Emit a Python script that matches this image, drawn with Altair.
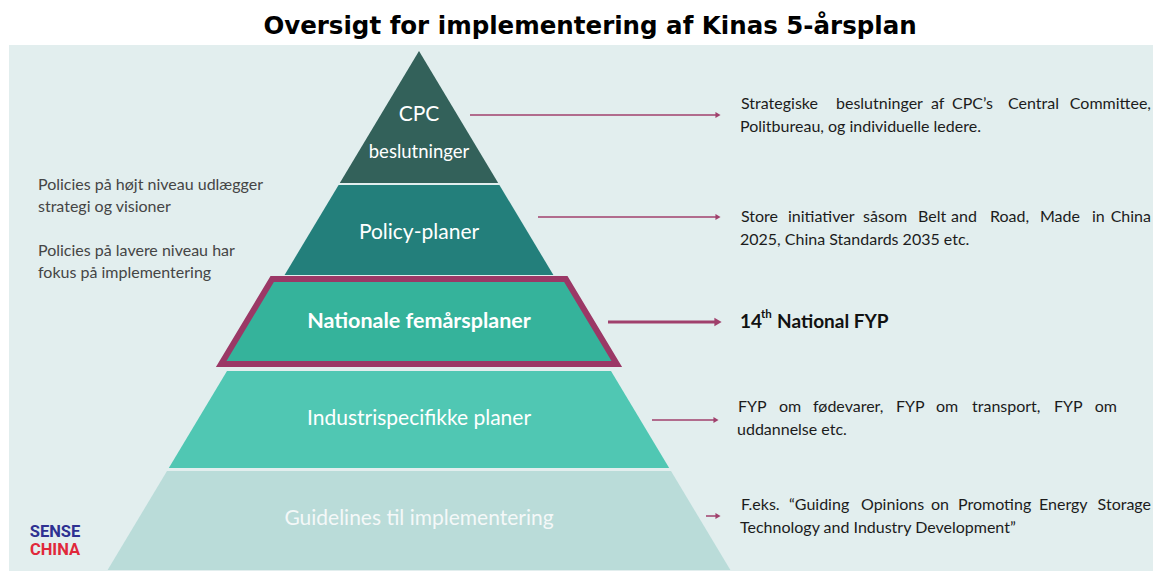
import altair as alt
import pandas as pd

# ---------------- data ----------------
title_text = "Oversigt for implementering af Kinas 5-årsplan"

level_names = ["CPC beslutninger", "Policy-planer", "Nationale femårsplaner",
               "Industrispecifikke planer", "Guidelines til implementering"]
level_top = [51, 185, 279, 371, 471]
level_bottom = [183, 275, 364, 468, 570]
level_expand = [0, 0, 10, 0, 0]
level_colors = ["#33615a", "#237f7b", "#35b39b", "#50c7b3", "#badcd9"]
highlight_level = "Nationale femårsplaner"
apex_x = 419
apex_y = 51
slope = 0.6

label_lines = ["CPC", "beslutninger", "Policy-planer", "Industrispecifikke planer",
               "Guidelines til implementering"]
label_y = [115, 152, 233, 419, 519]
label_size = [21, 18.5, 21, 21, 21]
label_color = ["#ffffff", "#ffffff", "#ffffff", "#ffffff", "#f4f8f8"]
bold_label = "Nationale femårsplaner"
bold_label_y = 322

left_lines = ["Policies på højt niveau udlægger", "strategi og visioner",
              "Policies på lavere niveau har", "fokus på implementering"]
left_y = [185, 207, 251, 273]

arrow_y = [115, 217, 322, 420, 516]
arrow_x0 = [470, 538, 608, 652, 706]
arrow_x1 = [718, 718, 718, 716, 718]
arrow_w = [1.5, 1.5, 3, 1.5, 1.5]
arrow_head = [35, 35, 70, 35, 35]

# justified lines of the right-hand notes, word by word
just_words = [
    ["Strategiske", "beslutninger", "af", "CPC’s", "Central", "Committee,"],
    ["Store", "initiativer", "såsom", "Belt", "and", "Road,", "Made", "in", "China"],
    ["FYP", "om", "fødevarer,", "FYP", "om", "transport,", "FYP", "om"],
    ["F.eks.", "“Guiding", "Opinions", "on", "Promoting", "Energy", "Storage"],
]
just_x = [
    [741, 836, 931, 952, 1008, 1151],
    [741, 788, 863, 918, 951, 990, 1040, 1092, 1151],
    [738, 779, 813, 896, 936, 972, 1054, 1117],
    [741, 789, 861, 931, 958, 1039, 1151],
]
just_y = [104, 217, 407, 505]

# last lines (left aligned)
right_lines = ["Politbureau, og individuelle ledere.",
               "2025, China Standards 2035 etc.",
               "uddannelse etc.",
               "Technology and Industry Development”"]
right_y = [127, 240, 430, 528]
right_x = [740, 740, 737, 740]

fyp_parts = ["14", "th", "National FYP"]
fyp_x = [740, 761, 777]
fyp_y = [322, 315, 322]
fyp_size = [19, 11.5, 19]

logo_words = ["SENSE", "CHINA"]
logo_y = [532, 550]
logo_colors = ["#2e3192", "#e0283a"]

# ---------------- scales ----------------
xs = alt.Scale(domain=[8, 1153], nice=False, zero=False)
ys = alt.Scale(domain=[8, 571], nice=False, zero=False, reverse=True)


def X(f):
    return alt.X(f, type="quantitative", scale=xs, axis=None)


def Y(f):
    return alt.Y(f, type="quantitative", scale=ys, axis=None)


# background panel
panel = alt.Chart(pd.DataFrame({"x": [9], "x2": [1153], "y": [45], "y2": [571]})).mark_rect(
    color="#e2eeee").encode(x=X("x"), x2="x2", y=Y("y"), y2="y2")

# pyramid
rows = []
for i, name in enumerate(level_names):
    for yv in (level_top[i], level_bottom[i]):
        hw = (yv - apex_y) * slope + level_expand[i]
        rows.append(dict(level=name, y=yv, xl=apex_x - hw, xr=apex_x + hw))
pyr = pd.DataFrame(rows)

pyramid = alt.Chart(pyr).mark_area(orient="horizontal").encode(
    y=Y("y"), x=X("xl"), x2="xr",
    color=alt.Color("level:N", scale=alt.Scale(domain=level_names, range=level_colors), legend=None),
)
border = alt.Chart(pyr[pyr.level == highlight_level]).mark_area(
    orient="horizontal", fillOpacity=0, stroke="#9b3866", strokeWidth=6, strokeJoin="miter"
).encode(y=Y("y"), x=X("xl"), x2="xr")

# labels in pyramid
lab = alt.Chart(pd.DataFrame({"t": label_lines, "y": label_y, "s": label_size, "c": label_color,
                              "x": [apex_x] * len(label_lines)})).mark_text(
    font="Lato", align="center", baseline="middle").encode(
    x=X("x"), y=Y("y"), text="t:N",
    size=alt.Size("s:Q", scale=None), color=alt.Color("c:N", scale=None))
blab = alt.Chart(pd.DataFrame({"t": [bold_label], "y": [bold_label_y], "x": [apex_x]})).mark_text(
    font="Lato", fontWeight="bold", fontSize=21.5, color="#ffffff", align="center", baseline="middle"
).encode(x=X("x"), y=Y("y"), text="t:N")

# left notes
left = alt.Chart(pd.DataFrame({"t": left_lines, "y": left_y, "x": [38] * len(left_lines)})).mark_text(
    font="Lato", fontSize=16, color="#454545", align="left", baseline="middle"
).encode(x=X("x"), y=Y("y"), text="t:N")

# arrows
adf = pd.DataFrame({"y": arrow_y, "x0": arrow_x0, "x1": arrow_x1, "w": arrow_w, "h": arrow_head})
rules = alt.Chart(adf).mark_rule(color="#a0406c").encode(
    x=X("x0"), x2="x1", y=Y("y"), size=alt.Size("w:Q", scale=None))
heads = alt.Chart(adf).mark_point(shape="triangle-right", filled=True, color="#a0406c", opacity=1).encode(
    x=X("x1"), y=Y("y"), size=alt.Size("h:Q", scale=None))

# right notes: justified lines
jrows = []
for words, xsx, yv in zip(just_words, just_x, just_y):
    for k, (w, xv) in enumerate(zip(words, xsx)):
        jrows.append(dict(t=w, x=xv, y=yv, last=(k == len(words) - 1)))
jdf = pd.DataFrame(jrows)
just_first = alt.Chart(jdf[~jdf["last"]]).mark_text(
    font="Lato", fontSize=16, color="#1c1c1c", align="left", baseline="middle"
).encode(x=X("x"), y=Y("y"), text="t:N")
just_last = alt.Chart(jdf[jdf["last"]]).mark_text(
    font="Lato", fontSize=16, color="#1c1c1c", align="right", baseline="middle"
).encode(x=X("x"), y=Y("y"), text="t:N")

right = alt.Chart(pd.DataFrame({"t": right_lines, "y": right_y, "x": right_x})).mark_text(
    font="Lato", fontSize=16, color="#1c1c1c", align="left", baseline="middle"
).encode(x=X("x"), y=Y("y"), text="t:N")
fyp = alt.Chart(pd.DataFrame({"t": fyp_parts, "x": fyp_x, "y": fyp_y, "s": fyp_size})).mark_text(
    font="Lato", fontWeight="bold", color="#111111", align="left", baseline="middle"
).encode(x=X("x"), y=Y("y"), text="t:N", size=alt.Size("s:Q", scale=None))

# logo
logo = alt.Chart(pd.DataFrame({"t": logo_words, "y": logo_y, "c": logo_colors, "x": [55, 55]})).mark_text(
    font="Roboto", fontWeight="bold", fontSize=16.5, align="center", baseline="middle"
).encode(x=X("x"), y=Y("y"), text="t:N", color=alt.Color("c:N", scale=None))

# title
title = alt.Chart(pd.DataFrame({"t": [title_text], "x": [590], "y": [27]})).mark_text(
    font="DejaVu Sans", fontWeight="bold", fontSize=24.5, color="#000000", align="center", baseline="middle"
).encode(x=X("x"), y=Y("y"), text="t:N")

chart = alt.layer(panel, pyramid, border, lab, blab, left, rules, heads,
                  just_first, just_last, right, fyp, logo, title).properties(
    width=1145, height=563, padding=0, autosize=alt.AutoSizeParams(type="none"),
    background="#ffffff"
).configure_view(stroke=None)

chart.save("out.html", embed_options={"renderer": "svg", "actions": False})
